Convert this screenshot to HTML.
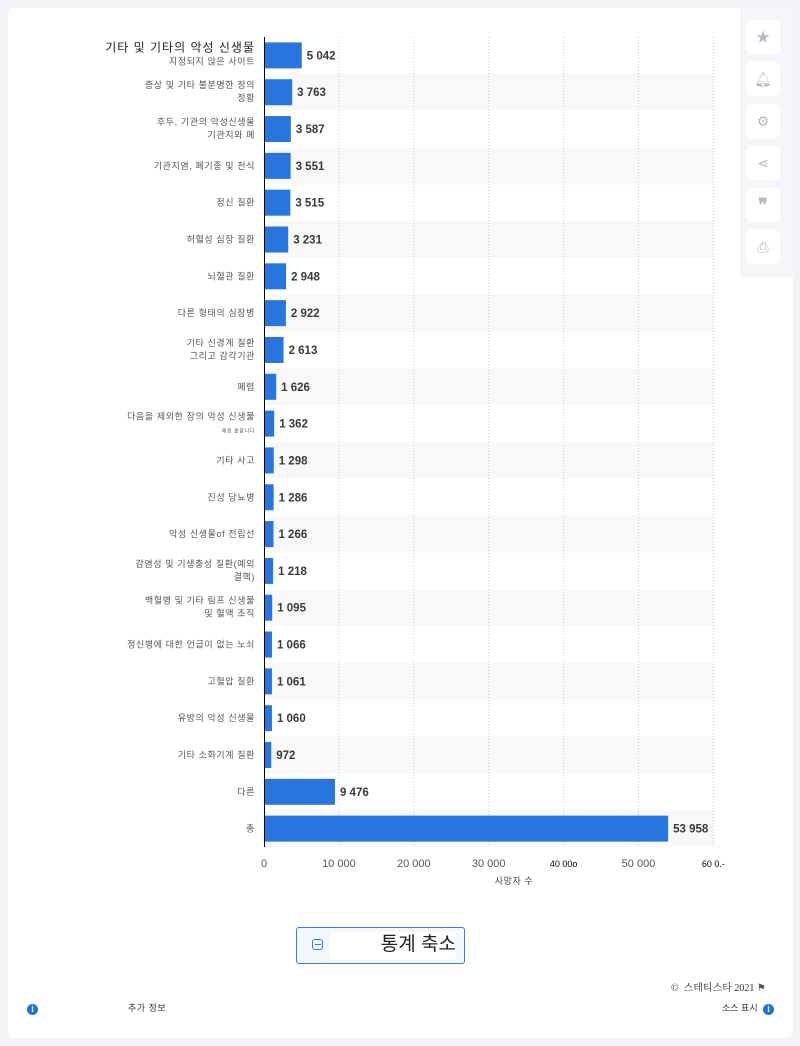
<!DOCTYPE html>
<html><head><meta charset="utf-8"><style>
body{margin:0;width:800px;height:1046px;background:#f1f3f6;font-family:"Liberation Sans","Noto Sans CJK KR",sans-serif;position:relative;overflow:hidden}
#card{position:absolute;left:8px;top:8px;width:785px;height:1030px;background:#fff;border-radius:6px}
#side{position:absolute;left:740px;top:8px;width:53px;height:270px;background:#f5f6f9}
.btn{position:absolute;left:746px;width:34px;height:34px;background:#fff;border-radius:5px;color:#b3bac6;font-size:14px;text-align:center;line-height:34px}
svg text{font-family:"Liberation Sans","Noto Sans CJK KR",sans-serif}
</style></head><body>
<div id="card"></div>
<div id="side"></div>
<div class="btn" style="top:20px">★</div>
<div class="btn" style="top:62px">🔔︎</div>
<div class="btn" style="top:104px">⚙</div>
<div class="btn" style="top:146px">⋖</div>
<div class="btn" style="top:188px;font-weight:bold;font-size:18px">❞</div>
<div class="btn" style="top:230px">⎙</div>
<svg id="chart" width="800" height="1046" style="position:absolute;left:0;top:0"></svg>
<div style="position:absolute;left:296px;top:927px;width:167px;height:35px;border:1px solid #2f7fd6;border-radius:3px;background:#f3f8fd">
<div style="position:absolute;left:15px;top:11px;width:11px;height:11px;border:1.5px solid #2f7fd6;border-radius:3px;box-sizing:border-box"><div style="margin:3.5px 1.5px;height:1px;background:#2f7fd6"></div></div>
<div style="position:absolute;left:33px;top:4px;width:126px;height:28px;background:#fff;text-align:right;font-size:19px;color:#222;line-height:26px">통계 축소</div></div>
<div style="position:absolute;left:671px;top:979px;font-size:10px;color:#333;font-family:'Liberation Serif','Noto Serif CJK SC',serif">© &nbsp;스테티스타 2021 <span style="color:#555">⚑</span></div>
<div style="position:absolute;left:27px;top:1004px;width:11px;height:11px;border-radius:50%;background:#1a73d9;color:#fff;font-size:9px;font-weight:bold;text-align:center;line-height:11px">i</div>
<div style="position:absolute;left:128px;top:1001px;font-size:9px;color:#333;letter-spacing:0.5px">추가 정보</div>
<div style="position:absolute;left:722px;top:1001px;font-size:9px;color:#333">소스 표시</div>
<div style="position:absolute;left:763px;top:1004px;width:11px;height:11px;border-radius:50%;background:#1a73d9;color:#fff;font-size:9px;font-weight:bold;text-align:center;line-height:11px">i</div>
<script>
const categories=[["기타 및 기타의 악성 신생물","지정되지 않은 사이트"],["증상 및 기타 불분명한 정의","정황"],["후두, 기관의 악성신생물","기관지와 폐"],["기관지염, 폐기종 및 천식"],["정신 질환"],["허혈성 심장 질환"],["뇌혈관 질환"],["다른 형태의 심장병"],["기타 신경계 질환","그리고 감각기관"],["폐렴"],["다음을 제외한 장의 악성 신생물","제료 붙잡니다"],["기타 사고"],["진성 당뇨병"],["악성 신생물of      전립선"],["감염성 및 기생충성 질환(예외","결핵)"],["백혈병 및 기타 림프 신생물","및 혈액 조직"],["정신병에 대한 언급이 없는 노쇠"],["고혈압 질환"],["유방의 악성 신생물"],["기타 소화기계 질환"],["다른"],["총"]];
const values=[5042,3763,3587,3551,3515,3231,2948,2922,2613,1626,1362,1298,1286,1266,1218,1095,1066,1061,1060,972,9476,53958];
const tickValues=[0,10000,20000,30000,40000,50000,60000];
const tickLabels=["0","10 000","20 000","30 000","40 00o","50 000","60 0.-"];
const svg=document.getElementById('chart');const NS='http://www.w3.org/2000/svg';
const x0=264,pxPer=74.9/10000,top0=37,pitch=36.82,barH=26;
const x=v=>x0+v*pxPer, y=i=>top0+i*pitch;
function mk(t,a){const e=document.createElementNS(NS,t);for(const k in a)e.setAttribute(k,a[k]);svg.appendChild(e);return e;}
categories.forEach((c,i)=>{if(i%2==1){const r=mk('rect',{x:264,y:y(i),width:450,height:pitch,fill:'#f8f8f8'});}});
tickValues.forEach((v,i)=>{if(i>0){const l=mk('line',{x1:x(v),x2:x(v),y1:37,y2:847,stroke:'#ccc','stroke-dasharray':'1,2'});}
const t=mk('text',{x:x(v),y:867,'text-anchor':'middle','font-size':(i==4||i==6)?9:11,fill:(i==4||i==6)?'#000':'#555'});t.textContent=tickLabels[i];});
values.forEach((v,i)=>{const cy=y(i)+pitch/2;
const b=mk('rect',{x:x0,y:cy-barH/2,width:x(v)-x0,height:barH,fill:'#2876dd'});
const t=mk('text',{x:x(v)+5,y:cy+4,'font-size':11.5,'font-weight':'bold',fill:'#3a3a3a'});t.textContent=values[i].toLocaleString('en').replace(/,/g,' ');
const c=categories[i];c.forEach((s,j)=>{const fs=(i==0&&j==0)?12:(i==10&&j==1)?5:9;
const dy=c.length==1?3:(j==0?-4:9);
const l=mk('text',{x:255,y:cy+dy,'text-anchor':'end','font-size':fs,fill:(i==0&&j==0)?'#222':'#555','letter-spacing':(i==0&&j==0)?1:0.6});l.textContent=s;});});
const ax=mk('line',{x1:264.5,x2:264.5,y1:37,y2:847,stroke:'#000','stroke-width':1});
const at=mk('text',{x:514,y:884,'text-anchor':'middle','font-size':9,fill:'#444','letter-spacing':0.6});at.textContent='사망자 수';
</script>
</body></html>
